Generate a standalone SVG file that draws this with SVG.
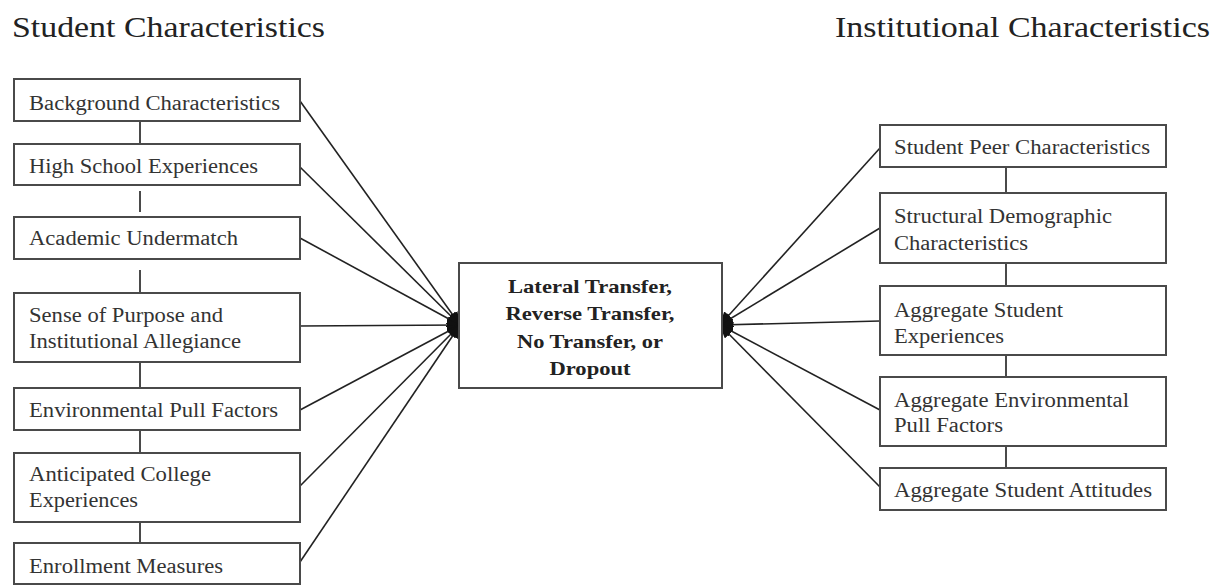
<svg xmlns="http://www.w3.org/2000/svg" width="1220" height="586" viewBox="0 0 1220 586">
<style>
.box{fill:#fff;stroke:#4a4a4a;stroke-width:2}
.t{font-family:"Liberation Serif",serif;font-size:20px;fill:#333}
.h{font-family:"Liberation Serif",serif;font-size:30px;fill:#222}
.c{font-family:"Liberation Serif",serif;font-size:19px;font-weight:bold;fill:#222;text-anchor:middle}
.ln{stroke:#222;stroke-width:1.6;fill:none}
.v{stroke:#4a4a4a;stroke-width:2;fill:none}
</style>
<defs>
<marker id="ah" markerWidth="14" markerHeight="12" refX="13" refY="6" orient="auto" markerUnits="userSpaceOnUse">
<path d="M0,0 L14,6 L0,12 Z" fill="#111"/>
</marker>
</defs>
<rect width="1220" height="586" fill="#fff"/>
<text class="h" x="12" y="37" textLength="313" lengthAdjust="spacingAndGlyphs">Student Characteristics</text>
<text class="h" x="835" y="37" textLength="375" lengthAdjust="spacingAndGlyphs">Institutional Characteristics</text>

<g id="connectors">
<line class="v" x1="140" y1="121" x2="140" y2="144"/>
<line class="v" x1="140" y1="191" x2="140" y2="212"/>
<line class="v" x1="140" y1="270" x2="140" y2="293"/>
<line class="v" x1="140" y1="362" x2="140" y2="388"/>
<line class="v" x1="140" y1="430" x2="140" y2="453"/>
<line class="v" x1="140" y1="522" x2="140" y2="543"/>
<line class="v" x1="1006" y1="167" x2="1006" y2="193"/>
<line class="v" x1="1006" y1="263" x2="1006" y2="286"/>
<line class="v" x1="1006" y1="355" x2="1006" y2="377"/>
<line class="v" x1="1006" y1="446" x2="1006" y2="468"/>
<line class="ln" x1="300" y1="101" x2="460" y2="325" marker-end="url(#ah)"/>
<line class="ln" x1="300" y1="167" x2="460" y2="325" marker-end="url(#ah)"/>
<line class="ln" x1="300" y1="238" x2="460" y2="325" marker-end="url(#ah)"/>
<line class="ln" x1="300" y1="326" x2="460" y2="325" marker-end="url(#ah)"/>
<line class="ln" x1="300" y1="410" x2="460" y2="325" marker-end="url(#ah)"/>
<line class="ln" x1="300" y1="486" x2="460" y2="325" marker-end="url(#ah)"/>
<line class="ln" x1="300" y1="562" x2="460" y2="325" marker-end="url(#ah)"/>
<line class="ln" x1="880" y1="148" x2="720" y2="325" marker-end="url(#ah)"/>
<line class="ln" x1="880" y1="228" x2="720" y2="325" marker-end="url(#ah)"/>
<line class="ln" x1="880" y1="321" x2="720" y2="325" marker-end="url(#ah)"/>
<line class="ln" x1="880" y1="410" x2="720" y2="325" marker-end="url(#ah)"/>
<line class="ln" x1="880" y1="487" x2="720" y2="325" marker-end="url(#ah)"/>
</g>

<g id="n-background"><rect class="box" x="14" y="79" width="286" height="42"/><text class="t" x="29" y="110" textLength="251" lengthAdjust="spacingAndGlyphs">Background Characteristics</text></g>
<g id="n-highschool"><rect class="box" x="14" y="144" width="286" height="41"/><text class="t" x="29" y="173" textLength="229" lengthAdjust="spacingAndGlyphs">High School Experiences</text></g>
<g id="n-undermatch"><rect class="box" x="14" y="217" width="286" height="42"/><text class="t" x="29" y="245" textLength="209" lengthAdjust="spacingAndGlyphs">Academic Undermatch</text></g>
<g id="n-purpose"><rect class="box" x="14" y="293" width="286" height="69"/><text class="t" x="29" y="322" textLength="194" lengthAdjust="spacingAndGlyphs">Sense of Purpose and</text><text class="t" x="29" y="348" textLength="212" lengthAdjust="spacingAndGlyphs">Institutional Allegiance</text></g>
<g id="n-pull"><rect class="box" x="14" y="388" width="286" height="42"/><text class="t" x="29" y="417" textLength="249" lengthAdjust="spacingAndGlyphs">Environmental Pull Factors</text></g>
<g id="n-anticipated"><rect class="box" x="14" y="453" width="286" height="69"/><text class="t" x="29" y="481" textLength="182" lengthAdjust="spacingAndGlyphs">Anticipated College</text><text class="t" x="29" y="507" textLength="109" lengthAdjust="spacingAndGlyphs">Experiences</text></g>
<g id="n-enrollment"><rect class="box" x="14" y="543" width="286" height="41"/><text class="t" x="29" y="573" textLength="194" lengthAdjust="spacingAndGlyphs">Enrollment Measures</text></g>

<g id="n-outcome"><rect class="box" x="459" y="263" width="263" height="125"/>
<text class="c" x="590" y="293" textLength="164" lengthAdjust="spacingAndGlyphs">Lateral Transfer,</text>
<text class="c" x="590" y="320" textLength="169" lengthAdjust="spacingAndGlyphs">Reverse Transfer,</text>
<text class="c" x="590" y="348" textLength="146" lengthAdjust="spacingAndGlyphs">No Transfer, or</text>
<text class="c" x="590" y="375" textLength="81" lengthAdjust="spacingAndGlyphs">Dropout</text></g>

<g id="n-peer"><rect class="box" x="880" y="125" width="286" height="42"/><text class="t" x="894" y="154" textLength="256" lengthAdjust="spacingAndGlyphs">Student Peer Characteristics</text></g>
<g id="n-structural"><rect class="box" x="880" y="193" width="286" height="70"/><text class="t" x="894" y="223" textLength="218" lengthAdjust="spacingAndGlyphs">Structural Demographic</text><text class="t" x="894" y="250" textLength="134" lengthAdjust="spacingAndGlyphs">Characteristics</text></g>
<g id="n-aggexp"><rect class="box" x="880" y="286" width="286" height="69"/><text class="t" x="894" y="317" textLength="169" lengthAdjust="spacingAndGlyphs">Aggregate Student</text><text class="t" x="894" y="343" textLength="110" lengthAdjust="spacingAndGlyphs">Experiences</text></g>
<g id="n-aggpull"><rect class="box" x="880" y="377" width="286" height="69"/><text class="t" x="894" y="407" textLength="235" lengthAdjust="spacingAndGlyphs">Aggregate Environmental</text><text class="t" x="894" y="432" textLength="109" lengthAdjust="spacingAndGlyphs">Pull Factors</text></g>
<g id="n-attitudes"><rect class="box" x="880" y="468" width="286" height="42"/><text class="t" x="894" y="497" textLength="258" lengthAdjust="spacingAndGlyphs">Aggregate Student Attitudes</text></g>
</svg>
